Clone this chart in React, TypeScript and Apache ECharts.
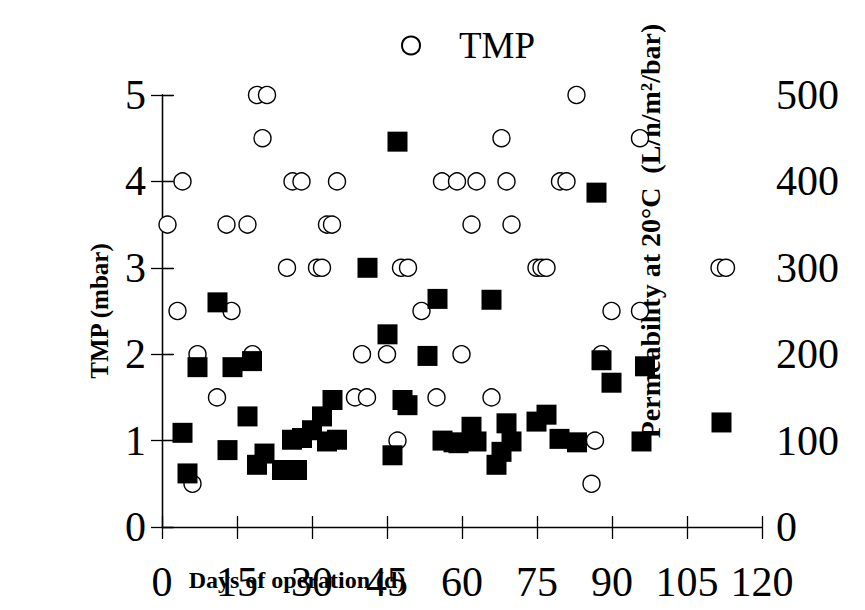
import React, { useEffect, useRef } from "react";
import * as echarts from "echarts";

const tmpDays = [1.1, 3.1, 4.1, 6.1, 7.1, 11, 12.9, 13.9, 17.1, 18.1, 19, 21, 20.1, 25, 26.1, 27.9, 31, 32, 33, 34, 35, 38.6, 41, 40, 45, 47.1, 47.8, 49.2, 51.9, 54.9, 56, 59, 59.9, 61.9, 62.9, 65.9, 67.9, 68.9, 69.9, 74.9, 75.9, 76.9, 79.6, 80.9, 82.9, 85.9, 86.6, 87.9, 89.9, 95.6, 95.6, 111.5, 112.8];
const tmpValues = [3.5, 2.5, 4.0, 0.5, 2.0, 1.5, 3.5, 2.5, 3.5, 2.0, 5.0, 5.0, 4.5, 3.0, 4.0, 4.0, 3.0, 3.0, 3.5, 3.5, 4.0, 1.5, 1.5, 2.0, 2.0, 1.0, 3.0, 3.0, 2.5, 1.5, 4.0, 4.0, 2.0, 3.5, 4.0, 1.5, 4.5, 4.0, 3.5, 3.0, 3.0, 3.0, 4.0, 4.0, 5.0, 0.5, 1.0, 2.0, 2.5, 4.5, 2.5, 3.0, 3.0];

const permDays = [4.1, 5.1, 7.1, 11.1, 13.1, 14.1, 17.1, 18, 19, 20.5, 24, 27, 26, 28, 30, 32, 33, 34.1, 35, 41.1, 45.1, 46.1, 47.1, 48.1, 49.1, 53.1, 55.1, 56.1, 58.3, 59.3, 61.9, 62.9, 65.9, 66.9, 67.9, 68.9, 69.9, 74.9, 76.9, 79.5, 83, 86.9, 87.9, 89.9, 95.9, 96.6, 111.9];
const permValues = [109, 62, 185, 260, 89, 185, 128, 192, 72, 85, 66, 66, 101, 103, 112, 128, 99, 147, 101, 300, 223, 83, 446, 147, 141, 198, 264, 100, 98, 97, 116, 99, 263, 72, 87, 120, 99, 122, 130, 102, 98, 387, 193, 167, 99, 186, 121];

const xTicks = { min: 0, max: 120, interval: 15 };
const tmpTicks = { min: 0, max: 5, interval: 1 };
const permTicks = { min: 0, max: 500, interval: 100 };

const FONT = "'Liberation Serif', 'Times New Roman', serif";

export default function App() {
  const ref = useRef<HTMLDivElement>(null);
  useEffect(() => {
    document.body.style.margin = "0";
    const chart = echarts.init(ref.current!, null, { renderer: "svg" });
    const lineStyle = { color: "#000", width: 1.3 };
    const labelStyle = { color: "#000", fontFamily: FONT, fontSize: 42 };
    chart.setOption({
      animation: false,
      backgroundColor: "#fff",
      textStyle: { fontFamily: FONT, color: "#000" },
      grid: { left: 162, right: 103, top: 95, bottom: 83, containLabel: false },
      legend: {
        data: [{ name: "TMP", icon: "circle" }],
        left: 396,
        top: 22,
        itemWidth: 18,
        itemHeight: 18,
        textStyle: { fontFamily: FONT, fontSize: 37, color: "#000", padding: [0, 0, 0, 34] },
      },
      xAxis: [
        {
          type: "value",
          ...xTicks,
          position: "bottom",
          axisLine: { show: true, lineStyle },
          axisTick: { show: true, inside: false, length: 12, lineStyle },
          axisLabel: { ...labelStyle, margin: 34 },
          splitLine: { show: false },
        },
        {
          type: "value",
          ...xTicks,
          position: "bottom",
          axisLine: { show: false },
          axisTick: { show: true, inside: true, length: 11, lineStyle },
          axisLabel: { show: false },
          splitLine: { show: false },
        },
      ],
      yAxis: [
        {
          type: "value",
          ...tmpTicks,
          position: "left",
          name: "TMP (mbar)",
          nameLocation: "middle",
          nameGap: 50,
          nameTextStyle: { fontFamily: FONT, fontSize: 25, fontWeight: "bold", color: "#000" },
          axisLine: { show: true, lineStyle },
          axisTick: { show: true, inside: false, length: 11, lineStyle },
          axisLabel: { ...labelStyle, margin: 16 },
          splitLine: { show: false },
        },
        {
          type: "value",
          ...permTicks,
          position: "right",
          axisLine: { show: true, lineStyle },
          axisTick: { show: true, inside: false, length: 12, lineStyle },
          axisLabel: { ...labelStyle, margin: 14 },
          splitLine: { show: false },
        },
        {
          type: "value",
          ...tmpTicks,
          position: "left",
          axisLine: { show: false },
          axisTick: { show: true, inside: true, length: 11, lineStyle },
          axisLabel: { show: false },
          splitLine: { show: false },
        },
      ],
      graphic: [
        {
          type: "text",
          x: 297,
          y: 580,
          style: {
            text: "Days of operation (d)",
            font: `bold 24px ${FONT}`,
            fill: "#000",
            textAlign: "center",
            textVerticalAlign: "middle",
          },
        },
        {
          type: "text",
          x: 650,
          y: 231,
          rotation: Math.PI / 2,
          style: {
            text: "Permeability at 20°C  (L/h/m²/bar)",
            font: `bold 28px ${FONT}`,
            fill: "#000",
            textAlign: "center",
            textVerticalAlign: "middle",
          },
        },
      ],
      series: [
        {
          name: "TMP",
          type: "scatter",
          xAxisIndex: 0,
          yAxisIndex: 0,
          symbol: "circle",
          symbolSize: 17,
          itemStyle: { color: "#fff", borderColor: "#000", borderWidth: 1.4, opacity: 1 },
          data: tmpDays.map((d, i) => [d, tmpValues[i]]),
          z: 2,
        },
        {
          name: "Permeability",
          type: "scatter",
          xAxisIndex: 0,
          yAxisIndex: 1,
          symbol: "rect",
          symbolSize: 20,
          itemStyle: { color: "#000", opacity: 1 },
          data: permDays.map((d, i) => [d, permValues[i]]),
          z: 3,
        },
      ],
    });
    return () => chart.dispose();
  }, []);
  return <div ref={ref} style={{ width: 865, height: 610 }} />;
}
